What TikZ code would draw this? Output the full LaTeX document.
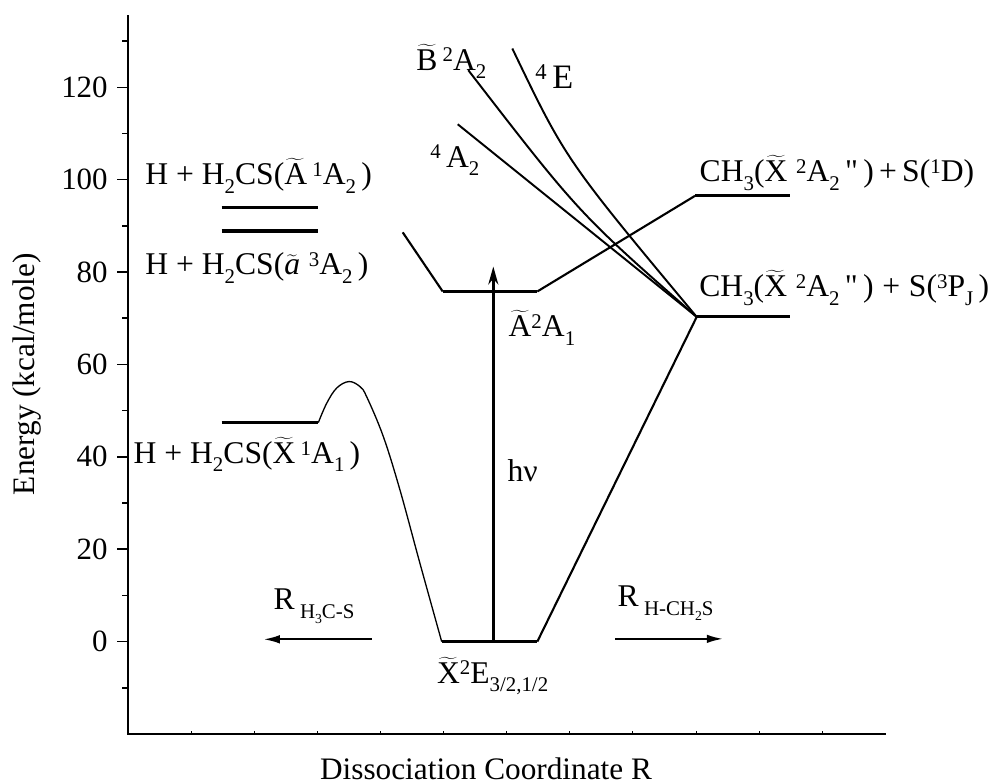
\documentclass[tikz,border=0pt]{standalone}
\usepackage{fontspec}
\setmainfont{Liberation Serif}
\usetikzlibrary{arrows.meta}

\newcommand{\wt}[1]{\ensuremath{\widetilde{\mbox{#1}}}}
\newcommand{\ssup}[1]{\raisebox{0.26em}{\scalebox{0.66}{#1}}}
\newcommand{\ssub}[1]{\raisebox{-0.27em}{\scalebox{0.66}{#1}}}

\begin{document}
\begin{tikzpicture}[x=0.02cm, y=0.0924cm,
  level/.style={line width=1.8pt},
  slant/.style={line width=1.2pt},
  pes/.style={line width=1.1pt},
  lbl/.style={font=\fontsize{18}{21}\selectfont, inner sep=0pt, anchor=base west},
  ticklbl/.style={font=\fontsize{17.6}{21}\selectfont, inner sep=0pt, anchor=east}]
  \useasboundingbox (0,-30.8) rectangle (997,138.9);
  % axes
  \draw[line width=0.9pt] (128,135.6) -- (128,-20) -- (886,-20);
  \foreach \e in {0,20,...,120} {
    \draw[line width=0.9pt] (117,\e) -- (128,\e);
    \node[ticklbl] (tick\e) at (108,\e) {\e};
  }
  \foreach \e in {-10,10,...,130}
    \draw[line width=0.9pt] (122,\e) -- (128,\e);
  \foreach \i in {1,...,11}
    \draw[line width=0.4pt] ({128+63.1*\i},-20) -- ++(0,0.7);
  \node[font=\fontsize{17.8}{21}\selectfont, rotate=90] (ylab) at (27,57.9) {Energy (kcal/mole)};
  \node[font=\fontsize{17.8}{21}\selectfont, anchor=base] (xlab) at (486,-29.9) {Dissociation Coordinate R};

  % key points
  \coordinate (xl) at (441.7,0);
  \coordinate (xr) at (537.3,0);
  \coordinate (atop) at (402.7,88.6);
  \coordinate (al) at (442.7,75.8);
  \coordinate (ar) at (537.3,75.8);
  \coordinate (dl) at (695,96.5);
  \coordinate (dr) at (790,96.5);
  \coordinate (cp) at (696.7,70.3);
  \coordinate (pr) at (790,70.3);
  \coordinate (hv0) at (493.3,0);
  \coordinate (hv1) at (493.3,81.2);
  \coordinate (lfrom) at (371.7,0.5);
  \coordinate (lto) at (263.3,0.5);
  \coordinate (rfrom) at (615,0.6);
  \coordinate (rto) at (723.3,0.6);

  % H + H2CS levels
  \draw[level] (221.7,94.0) -- (318.3,94.0);
  \draw[level] (221.7,88.9) -- (318.3,88.9);
  \draw[level] (221.7,47.4) -- (318.3,47.4);
  \draw[line width=0.75pt] plot[smooth, tension=0.6] coordinates {(318.3,47.4) (326.7,51.6) (336.7,54.9) (349,56.3) (360,55.2) (366.7,53.0) (383.3,44.4) (400,32.8) (420,16.9) (441.7,0)};

  % ground and A state wells
  \draw[level] (xl) -- (xr);
  \draw[slant] (xr) -- (cp);
  \draw[level] (cp) -- (pr);
  \draw[slant] (atop) -- (al);
  \draw[level] (al) -- (ar);
  \draw[slant] (ar) -- (dl);
  \draw[level] (dl) -- (dr);

  % repulsive states
  \draw[pes] (512.3,128.4) .. controls (565.8,104.3) .. (cp);
  \draw[pes] (468.3,123.7) .. controls (578.9,92.7) .. (cp);
  \draw[pes] (457.7,112.0) -- (cp);

  % arrows
  \draw[line width=1.5pt, -{Stealth[length=0.36cm, width=0.2cm]}] (hv0) -- (hv1);
  \draw[line width=1.3pt, -{Latex[length=0.33cm, width=0.17cm]}] (lfrom) -- (lto);
  \draw[line width=1.3pt, -{Latex[length=0.33cm, width=0.17cm]}] (rfrom) -- (rto);

  % labels
  \node[lbl] (h2csA) at (145,98.85) {H + H\ssub{2}CS(\wt{A}\,\ssup{1}A\ssub{2}\,)};
  \node[lbl] (h2csa) at (145,79.4) {H + H\ssub{2}CS(\wt{\itshape a}\;\ssup{3}A\ssub{2}\,)};
  \node[lbl] (h2csX) at (133.3,38.6) {H + H\ssub{2}CS(\wt{X}\,\ssup{1}A\ssub{1}\,)};
  \node[lbl] (stB) at (416,123.7) {\wt{B}\,\ssup{2}A\ssub{2}};
  \node[lbl, font=\fontsize{19.5}{22}\selectfont] (stE) at (535,119.8) {\ssup{4}\,E};
  \node[lbl] (stQ) at (430,102.7) {\ssup{4}\,A\ssub{2}};
  \node[lbl] (stA) at (508.3,66.0) {\wt{A}\ssup{2}A\ssub{1}};
  \node[lbl] (hnu) at (507.3,34.6) {hν};
  \node[lbl] (chD) at (699.3,99.6) {CH\ssub{3}(\wt{X}\;\ssup{2}A\ssub{2}\,\textquotedbl\,)\,+\,S(\ssup{1}D)};
  \node[lbl] (chP) at (699,74.7) {CH\ssub{3}(\wt{X}\;\ssup{2}A\ssub{2}\,\textquotedbl\,)\;+\;S(\ssup{3}P\ssub{J}\,)};
  \node[lbl] (stX) at (436.7,-9.0) {\wt{X}\ssup{2}E\ssub{3/2,1/2}};
  \node[lbl] (rcs) at (273.3,6.9) {R\,\ssub{H\ssub{3}C-S}};
  \node[lbl] (rch) at (617.3,7.6) {R\,\ssub{H-CH\ssub{2}S}};
\end{tikzpicture}
\end{document}
